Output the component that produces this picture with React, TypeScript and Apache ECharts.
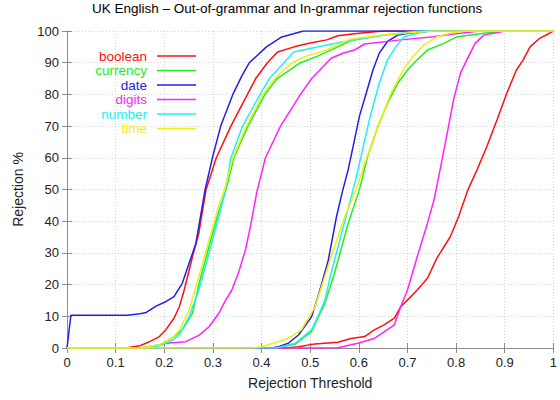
import React, { useEffect, useRef } from "react";
import * as echarts from "echarts";

const titleText = "UK English – Out-of-grammar and In-grammar rejection functions";
const xName = "Rejection Threshold";
const yName = "Rejection %";
const names = ["boolean", "currency", "date", "digits", "number", "time"];
const colors = ["#ff1010", "#22ee22", "#2020e8", "#ff22ff", "#22f0f0", "#eeee10"];

// Out-of-grammar curves (early rising)
const booleanOut = [[0,0],[0.12,0],[0.15,0.7],[0.17,2],[0.19,3.6],[0.203,5.7],[0.22,9.4],[0.231,13],[0.241,18.3],[0.258,28.8],[0.271,36.2],[0.286,50],[0.307,60],[0.337,70],[0.371,80],[0.388,85],[0.412,90],[0.433,93.4],[0.467,95],[0.5,96.2],[0.534,97.2],[0.557,98.5],[0.6,99.3],[0.65,100],[1,100]];
const currencyOut = [[0,0],[0.15,0],[0.19,1],[0.217,3.2],[0.237,5.7],[0.258,11],[0.271,20],[0.292,32],[0.312,43],[0.327,50],[0.343,60],[0.372,70],[0.407,80],[0.432,85],[0.48,90],[0.514,92],[0.55,94.5],[0.584,97],[0.652,98.7],[0.75,100],[1,100]];
const dateOut = [[0,0],[0.008,10.3],[0.05,10.3],[0.125,10.3],[0.15,10.8],[0.163,11.2],[0.183,13.2],[0.203,14.6],[0.22,16.2],[0.237,20.4],[0.251,26.7],[0.265,33],[0.284,50],[0.299,60],[0.316,70],[0.341,80],[0.36,86],[0.375,90],[0.41,95],[0.44,98],[0.486,100],[1,100]];
const digitsOut = [[0,0],[0.17,0],[0.203,1.5],[0.244,2],[0.271,4],[0.292,6.7],[0.312,10.9],[0.326,15],[0.339,18.3],[0.353,24],[0.367,31],[0.378,39],[0.39,49],[0.408,60],[0.439,70],[0.48,80],[0.503,85],[0.52,87.7],[0.543,91.4],[0.567,93],[0.591,94],[0.612,95.9],[0.686,97.2],[0.754,98.2],[0.79,99],[0.85,100],[1,100]];
const numberOut = [[0,0],[0.16,0],[0.19,0.7],[0.217,2.5],[0.231,4.1],[0.251,9.9],[0.271,18.3],[0.292,29.9],[0.312,41.4],[0.326,50],[0.337,60],[0.361,70],[0.397,80],[0.416,85],[0.446,90],[0.466,93.4],[0.5,94.5],[0.534,95.6],[0.6,97.5],[0.65,98.7],[0.72,100],[1,100]];
const timeOut = [[0,0],[0.15,0],[0.19,1],[0.217,3.2],[0.231,5.6],[0.251,12],[0.271,22.4],[0.292,34],[0.312,45],[0.324,50],[0.341,60],[0.369,70],[0.403,80],[0.427,85],[0.463,90],[0.49,92],[0.534,94],[0.584,97.5],[0.652,98.8],[0.75,100],[1,100]];

// In-grammar curves (late rising)
const booleanIn = [[0,0],[0.45,0],[0.476,0.4],[0.51,1.3],[0.557,1.8],[0.584,3],[0.612,3.6],[0.632,5.7],[0.652,7.3],[0.673,9.4],[0.686,13],[0.707,16.2],[0.72,18.3],[0.741,22],[0.761,28.5],[0.788,35.1],[0.805,41.4],[0.824,49.8],[0.843,56.2],[0.863,63.5],[0.884,71.9],[0.904,80.3],[0.924,87.7],[0.938,90.9],[0.952,95],[0.972,97.7],[0.992,99.3],[1,100]];
const currencyIn = [[0,0],[0.43,0],[0.469,1.2],[0.503,5.2],[0.516,9.6],[0.53,14],[0.55,23.6],[0.578,39.3],[0.601,49.8],[0.618,60.4],[0.639,69.8],[0.659,77.2],[0.68,83.5],[0.7,87.7],[0.72,90.9],[0.741,94],[0.775,96.1],[0.802,98.2],[0.857,99.3],[0.9,100],[1,100]];
const dateIn = [[0,0],[0.42,0],[0.435,0.4],[0.455,1.5],[0.476,4.1],[0.503,9.9],[0.516,16.2],[0.537,27.5],[0.554,41.4],[0.567,49.8],[0.578,56.2],[0.591,65.6],[0.601,73],[0.615,80.3],[0.629,87.7],[0.642,93],[0.659,96.7],[0.68,98.7],[0.71,99.5],[0.75,100],[1,100]];
const digitsIn = [[0,0],[0.52,0],[0.557,0.1],[0.598,1.5],[0.632,3],[0.652,5.1],[0.673,7.3],[0.686,13],[0.7,18.3],[0.72,28.8],[0.741,39.3],[0.755,47],[0.768,57],[0.782,68],[0.795,78.5],[0.809,86.7],[0.822,90.9],[0.839,96.1],[0.857,98.7],[0.877,99.3],[0.9,100],[1,100]];
const numberIn = [[0,0],[0.43,0],[0.469,1.5],[0.503,5.7],[0.516,10],[0.53,15],[0.543,23.6],[0.571,40],[0.585,48],[0.598,56],[0.612,65.6],[0.625,74],[0.642,83.5],[0.659,90.9],[0.676,95],[0.693,98.2],[0.74,100],[1,100]];
const timeIn = [[0,0],[0.38,0],[0.4,0.4],[0.455,3],[0.482,5.7],[0.51,13],[0.543,28.8],[0.571,41.4],[0.594,49.8],[0.612,58.2],[0.639,69.8],[0.666,80.3],[0.693,88.2],[0.714,92.4],[0.734,95.6],[0.761,98.2],[0.788,99.3],[0.82,100],[1,100]];

const outCurves = [booleanOut, currencyOut, dateOut, digitsOut, numberOut, timeOut];
const inCurves = [booleanIn, currencyIn, dateIn, digitsIn, numberIn, timeIn];

const FONT = "'Liberation Sans', Arial, Helvetica, sans-serif";

export default function App() {
  const ref = useRef<HTMLDivElement>(null);
  useEffect(() => {
    if (!ref.current) return;
    const chart = echarts.init(ref.current, null, { renderer: "svg" });
    const series: any[] = [];
    names.forEach((n, i) => {
      [outCurves[i], inCurves[i]].forEach((d) => {
        series.push({
          type: "line",
          name: n,
          data: d,
          symbol: "none",
          showSymbol: false,
          lineStyle: { color: colors[i], width: 1.5 },
          itemStyle: { color: colors[i] },
          xAxisIndex: 0,
          yAxisIndex: 0,
        });
      });
    });
    const axisLine = { show: true, lineStyle: { color: "#8c8c8c", width: 1 } };
    const tick = { show: true, inside: true, length: 5, lineStyle: { color: "#8c8c8c" } };
    chart.setOption({
      animation: false,
      backgroundColor: "#fff",
      title: {
        text: titleText,
        left: 92,
        top: 1,
        padding: 0,
        textStyle: { fontFamily: FONT, fontSize: 13.5, fontWeight: "normal", color: "#000" },
      },
      legend: {
        data: names.map((n, i) => ({
          name: n,
          icon: "rect",
          itemStyle: { color: colors[i] },
          textStyle: { color: colors[i] },
        })),
        orient: "vertical",
        align: "right",
        right: 364,
        top: 49,
        padding: 0,
        itemWidth: 39,
        itemHeight: 1.5,
        itemGap: 0.5,
        selectedMode: false,
        textStyle: { fontFamily: FONT, fontSize: 13.5, lineHeight: 13, padding: [0, 5, 0, 0] },
      },
      grid: { left: 67, right: 3, top: 31, bottom: 52, containLabel: false },
      xAxis: [
        {
          type: "value", min: 0, max: 1, interval: 0.1,
          name: xName, nameLocation: "middle", nameGap: 28,
          nameTextStyle: { fontFamily: FONT, fontSize: 14, color: "#222" },
          axisLine, axisTick: tick,
          axisLabel: { margin: 8, fontFamily: FONT, fontSize: 13, color: "#222" },
          splitLine: { show: true, lineStyle: { color: "#d4d4d4", type: [1, 2] } },
        },
        {
          type: "value", min: 0, max: 1, interval: 0.1, position: "top",
          axisLine, axisTick: tick, axisLabel: { show: false }, splitLine: { show: false },
        },
      ],
      yAxis: [
        {
          type: "value", min: 0, max: 100, interval: 10,
          name: yName, nameLocation: "middle", nameGap: 42,
          nameTextStyle: { fontFamily: FONT, fontSize: 14, color: "#222" },
          axisLine, axisTick: tick,
          axisLabel: { margin: 8, fontFamily: FONT, fontSize: 13, color: "#222" },
          splitLine: { show: true, lineStyle: { color: "#d4d4d4", type: [1, 2] } },
        },
        {
          type: "value", min: 0, max: 100, interval: 10, position: "right",
          axisLine, axisTick: tick, axisLabel: { show: false }, splitLine: { show: false },
        },
      ],
      series,
    });
    return () => chart.dispose();
  }, []);
  return (
    <div
      ref={ref}
      style={{ position: "fixed", left: 0, top: 0, width: 560, height: 400, background: "#fff" }}
    />
  );
}
